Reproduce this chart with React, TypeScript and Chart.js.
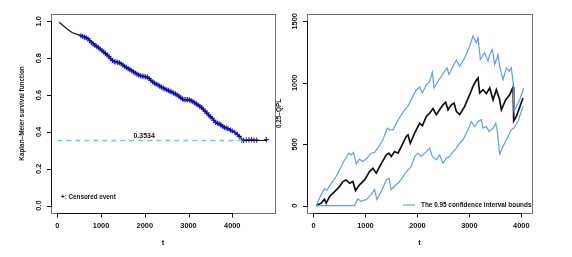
import React, { useEffect, useRef } from 'react';
import { Chart, registerables } from 'chart.js';

Chart.register(...registerables);

// ---------- Left panel: Kaplan-Meier ----------
const kmTime = [40, 220, 335, 525, 680, 905, 1135, 1285, 1440, 1665, 1895, 2050, 2200, 2500, 2735, 2885, 3035, 3265, 3495, 3645, 3875, 4025, 4100, 4180, 4230, 4790];
const kmSurv = [0.995, 0.96, 0.94, 0.924, 0.91, 0.864, 0.819, 0.783, 0.774, 0.737, 0.705, 0.698, 0.668, 0.629, 0.602, 0.574, 0.574, 0.538, 0.484, 0.448, 0.421, 0.402, 0.39, 0.375, 0.3534, 0.3534];

const censorTime = [540, 580, 620, 660, 700, 740, 780, 820, 860, 900, 940, 980, 1020, 1060, 1100, 1140, 1180, 1220, 1260, 1300, 1340, 1380, 1420, 1460, 1500, 1540, 1580, 1620, 1660, 1700, 1740, 1780, 1820, 1860, 1900, 1940, 1980, 2020, 2060, 2100, 2140, 2180, 2220, 2260, 2300, 2340, 2380, 2420, 2460, 2500, 2540, 2580, 2620, 2660, 2700, 2740, 2780, 2820, 2860, 2900, 2940, 2980, 3020, 3060, 3100, 3140, 3180, 3220, 3260, 3300, 3340, 3380, 3420, 3460, 3500, 3540, 3580, 3620, 3660, 3700, 3740, 3780, 3820, 3860, 3900, 3960, 4000, 4060, 4120, 4160, 4220, 4260, 4320, 4380, 4440, 4500, 4560, 4780];
const censorSurv = [0.922, 0.918, 0.915, 0.911, 0.905, 0.895, 0.885, 0.878, 0.87, 0.864, 0.857, 0.85, 0.842, 0.834, 0.826, 0.818, 0.808, 0.798, 0.788, 0.782, 0.78, 0.777, 0.775, 0.77, 0.762, 0.755, 0.75, 0.744, 0.738, 0.732, 0.726, 0.72, 0.714, 0.709, 0.705, 0.703, 0.701, 0.699, 0.697, 0.69, 0.68, 0.671, 0.665, 0.66, 0.655, 0.649, 0.643, 0.638, 0.633, 0.629, 0.625, 0.62, 0.616, 0.611, 0.606, 0.601, 0.594, 0.586, 0.579, 0.575, 0.575, 0.575, 0.574, 0.57, 0.564, 0.558, 0.552, 0.546, 0.539, 0.532, 0.523, 0.513, 0.502, 0.492, 0.483, 0.474, 0.463, 0.452, 0.447, 0.445, 0.438, 0.43, 0.424, 0.421, 0.418, 0.41, 0.405, 0.398, 0.385, 0.376, 0.356, 0.354, 0.356, 0.357, 0.358, 0.356, 0.356, 0.358];

const medianLevel = 0.3534;
const medianLineTime = [0, 4240];
const medianLabel = '0.3534';
const medianLabelPos = [1986, 0.375];

const leftXTicks = [0, 1000, 2000, 3000, 4000];
const leftYTicks = [0, 0.2, 0.4, 0.6, 0.8, 1.0];
const leftYTickLabels = ['0.0', '0.2', '0.4', '0.6', '0.8', '1.0'];
const leftYTitle = 'Kaplan\u2013Meier survival function';
const leftLegend = '+: Censored event';

// ---------- Right panel: 0.25-QPL ----------
const qplTime = [51, 148, 212, 244, 308, 405, 501, 565, 629, 694, 758, 809, 886, 983, 1079, 1143, 1208, 1272, 1401, 1452, 1497, 1561, 1626, 1690, 1786, 1818, 1863, 1947, 2043, 2095, 2172, 2236, 2300, 2364, 2428, 2493, 2544, 2589, 2653, 2705, 2749, 2814, 2910, 3006, 3070, 3122, 3167, 3199, 3263, 3327, 3392, 3456, 3520, 3584, 3616, 3700, 3777, 3841, 3850, 3858, 3905, 4033];
const qplEst = [0, 20, 52, 19, 73, 114, 155, 196, 209, 182, 196, 123, 169, 209, 277, 304, 264, 318, 413, 427, 400, 440, 427, 481, 563, 576, 508, 590, 671, 650, 726, 753, 790, 740, 780, 821, 841, 780, 821, 835, 767, 740, 808, 903, 971, 1012, 1039, 917, 944, 912, 958, 862, 944, 862, 780, 862, 903, 965, 760, 690, 726, 876];

const upperTime = [51, 148, 212, 257, 341, 437, 501, 597, 680, 726, 771, 822, 886, 950, 1027, 1111, 1175, 1240, 1336, 1420, 1465, 1529, 1594, 1690, 1754, 1818, 1882, 1979, 2043, 2095, 2172, 2236, 2287, 2319, 2396, 2460, 2525, 2570, 2608, 2685, 2749, 2814, 2910, 3006, 3070, 3135, 3167, 3212, 3295, 3359, 3392, 3443, 3488, 3552, 3584, 3648, 3712, 3764, 3808, 3841, 3860, 3969, 4046];
const upperVal = [0, 90, 136, 125, 182, 237, 291, 372, 427, 413, 433, 340, 378, 359, 386, 427, 433, 468, 536, 631, 617, 617, 671, 740, 780, 808, 862, 944, 966, 917, 985, 1012, 1086, 958, 1012, 1053, 1094, 1121, 1067, 1135, 1184, 1135, 1203, 1298, 1380, 1326, 1366, 1190, 1244, 1176, 1230, 1271, 1149, 1230, 1135, 1026, 1121, 1094, 1121, 1012, 767, 862, 958];

const lowerTime = [51, 790, 854, 918, 1014, 1092, 1175, 1220, 1304, 1401, 1452, 1497, 1594, 1658, 1722, 1818, 1882, 1947, 2011, 2075, 2172, 2236, 2287, 2364, 2428, 2493, 2557, 2621, 2685, 2749, 2814, 2878, 2974, 3038, 3103, 3167, 3231, 3263, 3327, 3379, 3456, 3507, 3540, 3584, 3648, 3744, 3808, 3854, 3937, 4033];
const lowerVal = [0, 0, 54, 35, 49, 82, 131, 49, 116, 209, 223, 131, 172, 196, 237, 291, 318, 400, 427, 400, 440, 468, 400, 372, 413, 345, 386, 400, 440, 468, 508, 536, 617, 685, 644, 685, 699, 631, 644, 603, 631, 671, 600, 420, 481, 563, 617, 631, 685, 808];

const rightXTicks = [0, 1000, 2000, 3000, 4000];
const rightYTicks = [0, 500, 1000, 1500];
const rightYTickLabels = ['0', '500', '1000', '1500'];
const rightYTitle = '0.25\u2013QPL';
const rightLegend = 'The 0.95 confidence interval bounds';

const xTitle = 't';

const BLUE_LINE = '#5f9fe9';
const FONT = '"Liberation Sans", Arial, sans-serif';

const pts = (xs: number[], ys: number[]) => xs.map((x, i) => ({ x, y: ys[i] }));

interface AxisCfg {
  xTicks: number[];
  yTicks: number[];
  yLabels: string[];
  yTitle: string;
  yTitleX: number;
  extra?: (chart: any) => void;
}

function makeAxesPlugin(cfg: AxisCfg) {
  return {
    id: 'rAxes',
    afterDraw(chart: any) {
      const { ctx, chartArea: a, scales } = chart;
      const x = scales.x;
      const y = scales.y;
      const L = Math.round(a.left);
      const R = Math.round(a.right);
      const T = Math.round(a.top);
      const B = Math.round(a.bottom);
      ctx.save();
      ctx.strokeStyle = '#707070';
      ctx.lineWidth = 1;
      ctx.strokeRect(L + 0.5, T + 0.5, R - L, B - T);
      ctx.strokeStyle = '#111';
      ctx.fillStyle = '#111';
      ctx.font = `bold 7.4px ${FONT}`;
      ctx.textAlign = 'center';
      ctx.textBaseline = 'middle';
      const x0 = x.getPixelForValue(cfg.xTicks[0]);
      const x1 = x.getPixelForValue(cfg.xTicks[cfg.xTicks.length - 1]);
      ctx.beginPath();
      ctx.moveTo(x0, B + 0.5);
      ctx.lineTo(x1, B + 0.5);
      for (const v of cfg.xTicks) {
        const p = Math.round(x.getPixelForValue(v)) + 0.5;
        ctx.moveTo(p, B);
        ctx.lineTo(p, B + 4.5);
      }
      ctx.stroke();
      for (const v of cfg.xTicks) {
        ctx.fillText(String(v), x.getPixelForValue(v), B + 12.5);
      }
      const y0 = y.getPixelForValue(cfg.yTicks[0]);
      const y1 = y.getPixelForValue(cfg.yTicks[cfg.yTicks.length - 1]);
      ctx.beginPath();
      ctx.moveTo(L + 0.5, y0);
      ctx.lineTo(L + 0.5, y1);
      for (const v of cfg.yTicks) {
        const p = Math.round(y.getPixelForValue(v)) + 0.5;
        ctx.moveTo(L + 1, p);
        ctx.lineTo(L - 4, p);
      }
      ctx.stroke();
      cfg.yTicks.forEach((v, i) => {
        ctx.save();
        ctx.translate(L - 12.5, y.getPixelForValue(v));
        ctx.rotate(-Math.PI / 2);
        ctx.fillText(cfg.yLabels[i], 0, 0);
        ctx.restore();
      });
      ctx.font = `bold 7.6px ${FONT}`;
      ctx.fillText(xTitle, (L + R) / 2, B + 29.5);
      ctx.font = `bold 6.4px ${FONT}`;
      ctx.save();
      ctx.translate(cfg.yTitleX, (T + B) / 2);
      ctx.rotate(-Math.PI / 2);
      ctx.fillText(cfg.yTitle, 0, 0);
      ctx.restore();
      if (cfg.extra) cfg.extra(chart);
      ctx.restore();
    },
  };
}

function LeftPanel() {
  const ref = useRef<HTMLCanvasElement>(null);
  useEffect(() => {
    const plugin = makeAxesPlugin({
      xTicks: leftXTicks,
      yTicks: leftYTicks,
      yLabels: leftYTickLabels,
      yTitle: leftYTitle,
      yTitleX: 22,
      extra: (chart: any) => {
        const { ctx, scales } = chart;
        ctx.fillStyle = '#111';
        ctx.font = `bold 7px ${FONT}`;
        ctx.textAlign = 'center';
        ctx.textBaseline = 'middle';
        ctx.fillText(medianLabel, scales.x.getPixelForValue(medianLabelPos[0]), scales.y.getPixelForValue(medianLabelPos[1]));
        ctx.font = `bold 6.3px ${FONT}`;
        ctx.textAlign = 'left';
        ctx.fillText(leftLegend, 61, 197.5);
      },
    });
    const chart = new Chart(ref.current as HTMLCanvasElement, {
      type: 'scatter',
      data: {
        datasets: [
          {
            data: pts(medianLineTime, [medianLevel, medianLevel]),
            showLine: true,
            borderColor: '#6cc6f0',
            borderWidth: 1.3,
            borderDash: [5, 4],
            pointRadius: 0,
          },
          {
            data: pts(kmTime, kmSurv),
            showLine: true,
            borderColor: '#111',
            borderWidth: 1.1,
            pointRadius: 0,
          },
          {
            data: pts(censorTime, censorSurv),
            showLine: false,
            pointStyle: 'cross',
            pointRadius: 2.6,
            borderColor: '#1a1aee',
            backgroundColor: '#1a1aee',
            pointBorderWidth: 1.1,
          },
        ],
      },
      options: {
        animation: false,
        responsive: false,
        maintainAspectRatio: false,
        layout: { padding: { left: 51, right: 11, top: 14, bottom: 44 } },
        plugins: { legend: { display: false }, tooltip: { enabled: false } },
        scales: {
          x: { type: 'linear', min: -145, max: 4978, display: false },
          y: { type: 'linear', min: -0.04, max: 1.04, display: false },
        },
      },
      plugins: [plugin],
    });
    return () => chart.destroy();
  }, []);
  return <canvas ref={ref} width={286} height={257} style={{ position: 'fixed', left: 0, top: 0, width: 286, height: 257 }} />;
}

function RightPanel() {
  const ref = useRef<HTMLCanvasElement>(null);
  useEffect(() => {
    const plugin = makeAxesPlugin({
      xTicks: rightXTicks,
      yTicks: rightYTicks,
      yLabels: rightYTickLabels,
      yTitle: rightYTitle,
      yTitleX: 9,
      extra: (chart: any) => {
        const { ctx } = chart;
        ctx.strokeStyle = BLUE_LINE;
        ctx.lineWidth = 1.2;
        ctx.beginPath();
        ctx.moveTo(403 - 270, 205);
        ctx.lineTo(415 - 270, 205);
        ctx.stroke();
        ctx.fillStyle = '#111';
        ctx.font = `bold 6.4px ${FONT}`;
        ctx.textAlign = 'left';
        ctx.textBaseline = 'middle';
        ctx.fillText(rightLegend, 421 - 270, 205);
      },
    });
    const chart = new Chart(ref.current as HTMLCanvasElement, {
      type: 'scatter',
      data: {
        datasets: [
          {
            data: pts(upperTime, upperVal),
            showLine: true,
            borderColor: BLUE_LINE,
            borderWidth: 1.2,
            pointRadius: 0,
          },
          {
            data: pts(lowerTime, lowerVal),
            showLine: true,
            borderColor: BLUE_LINE,
            borderWidth: 1.2,
            pointRadius: 0,
          },
          {
            data: pts(qplTime, qplEst),
            showLine: true,
            borderColor: '#111',
            borderWidth: 1.7,
            pointRadius: 0,
          },
        ],
      },
      options: {
        animation: false,
        responsive: false,
        maintainAspectRatio: false,
        layout: { padding: { left: 37, right: 40, top: 14, bottom: 44 } },
        plugins: { legend: { display: false }, tooltip: { enabled: false } },
        scales: {
          x: { type: 'linear', min: -125, max: 4206, display: false },
          y: { type: 'linear', min: -60, max: 1560, display: false },
        },
      },
      plugins: [plugin],
    });
    return () => chart.destroy();
  }, []);
  return <canvas ref={ref} width={302} height={257} style={{ position: 'fixed', left: 270, top: 0, width: 302, height: 257 }} />;
}

export default function App() {
  return (
    <div style={{ position: 'fixed', left: 0, top: 0, width: 572, height: 257, background: '#fff' }}>
      <LeftPanel />
      <RightPanel />
    </div>
  );
}
